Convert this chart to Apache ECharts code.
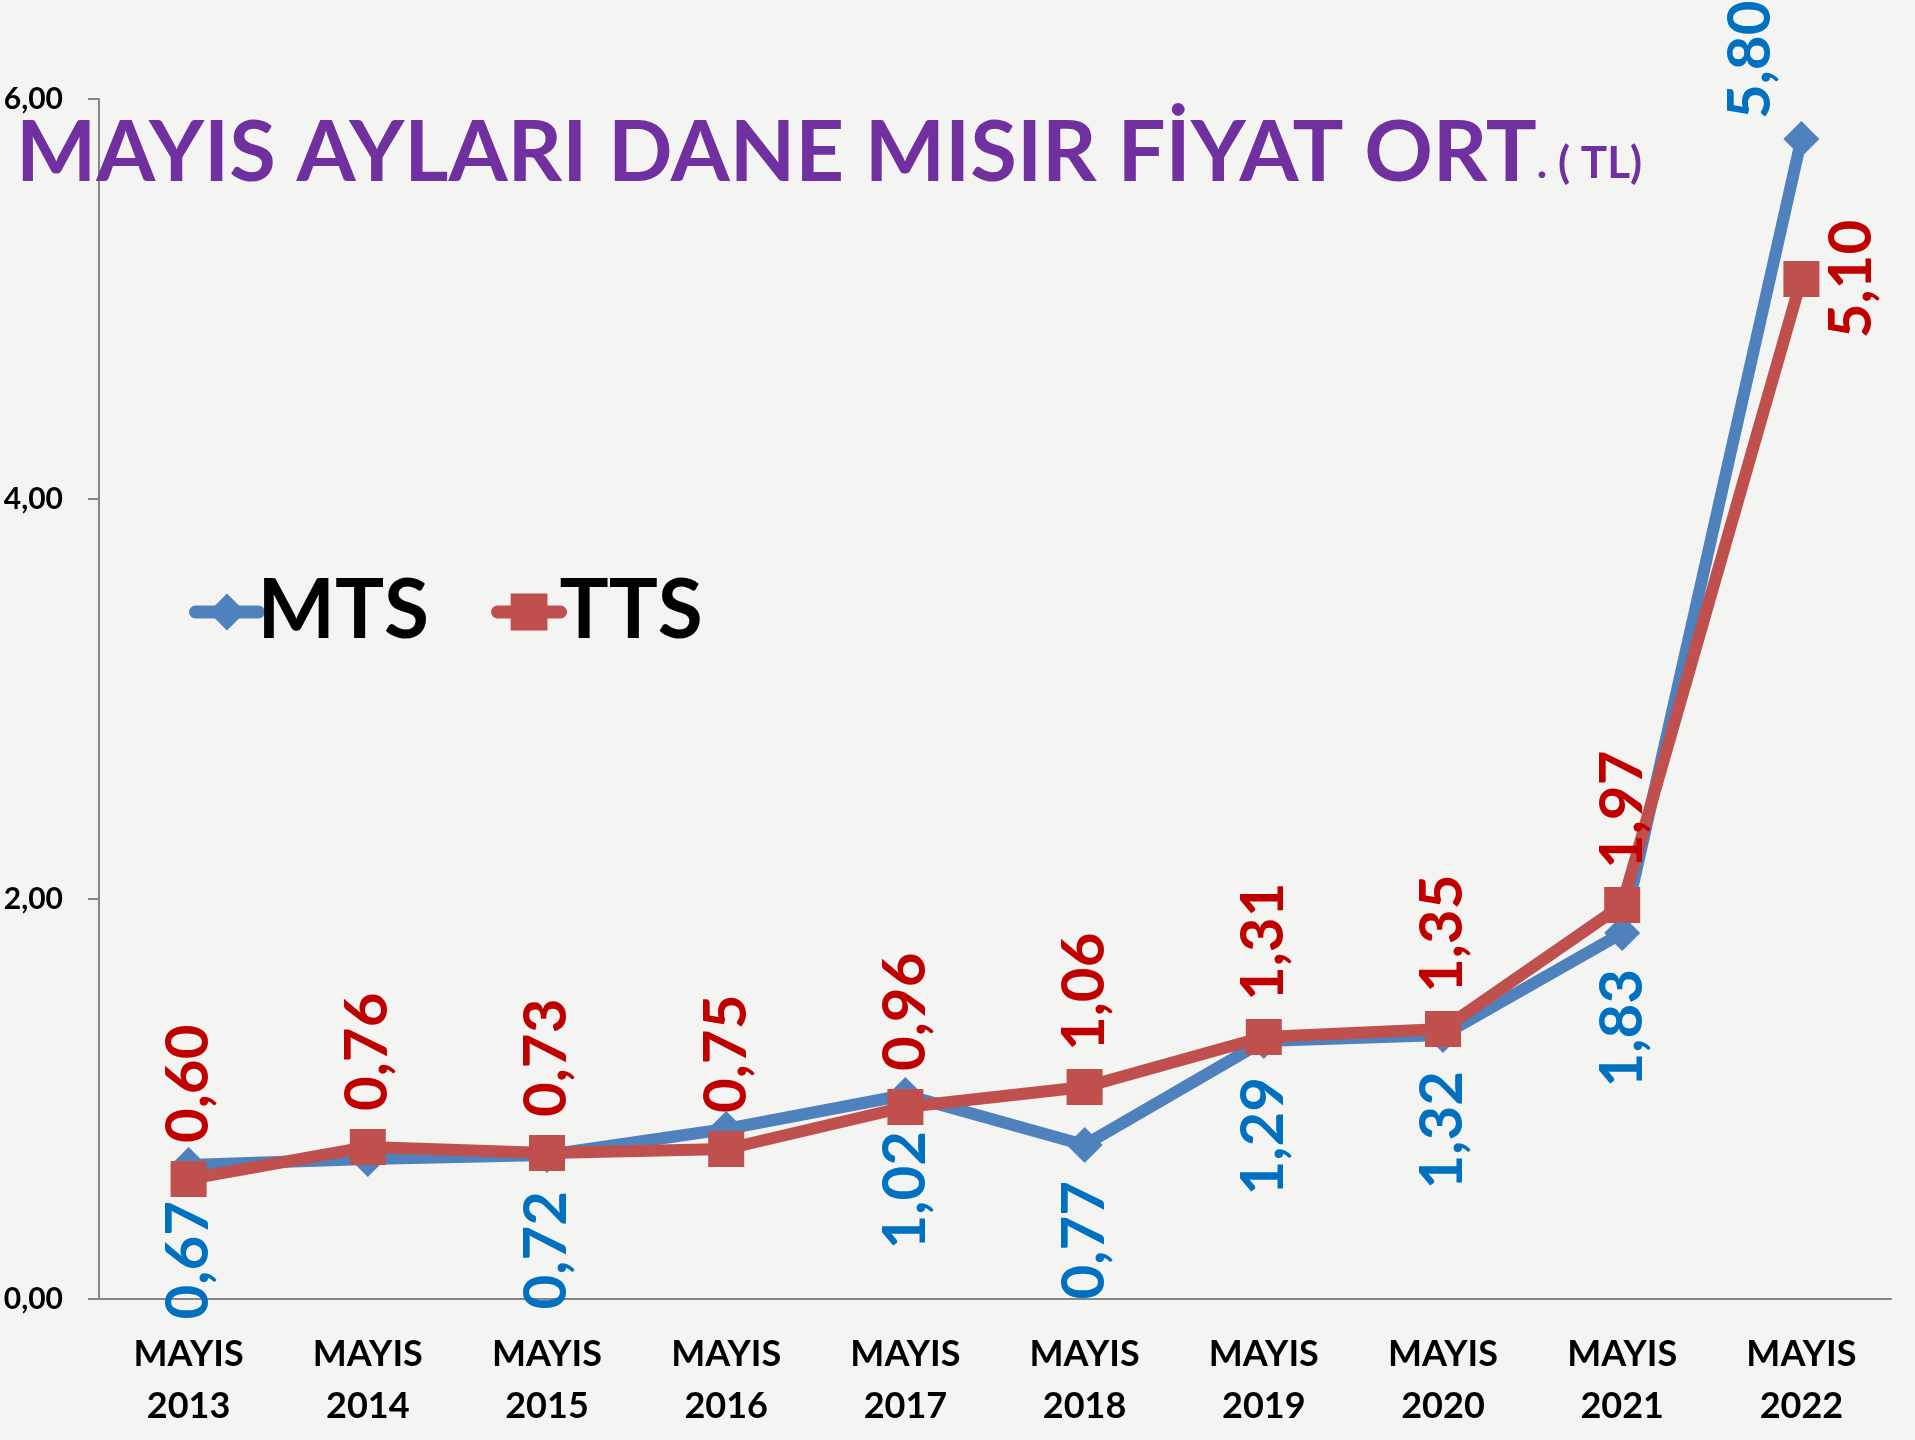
<!DOCTYPE html>
<html>
<head>
    <meta charset="utf-8">
    <title>Mayis aylari dane misir fiyat ort.</title>
    <script src="https://cdn.jsdelivr.net/npm/echarts@6/dist/echarts.min.js"></script>
    <style>
        html, body {
            margin: 0;
            padding: 0;
            background: #f4f4f3;
        }

        #chart {
            width: 1915px;
            height: 1440px;
        }
    </style>
</head>
<body>
<div id="chart"></div>
<script>
    // values
    var years = ['2013', '2014', '2015', '2016', '2017', '2018', '2019', '2020', '2021', '2022']
    var mts = [0.67, 0.70, 0.72, 0.85, 1.02, 0.77, 1.29, 1.32, 1.83, 5.80]
    var tts = [0.60, 0.76, 0.73, 0.75, 0.96, 1.06, 1.31, 1.35, 1.97, 5.10]
    var yTicks = [0, 2, 4, 6]
    var mtsHidden = [1, 3]   // labels that the original does not show

    var font = 'Lato'

    function tl(v) {
        return v.toFixed(2).replace('.', ',')
    }

    var categories = years.map(function (y) {
        return 'MAYIS\n' + y
    })

    var mtsData = mts.map(function (v, i) {
        var item = {value: v}
        if (mtsHidden.indexOf(i) >= 0) {
            item.label = {show: false}
        }
        if (i === mts.length - 1) {
            // no room above the last point, the label sits lower and to the left
            item.label = {position: 'top', align: 'left', verticalAlign: 'middle', offset: [-16, -51]}
        }
        return item
    })

    var ttsData = tts.map(function (v, i) {
        var item = {value: v}
        if (i === tts.length - 1) {
            item.label = {position: 'right', align: 'center', verticalAlign: 'middle', distance: 32}
        }
        return item
    })

    var myChart = echarts.init(document.getElementById('chart'))

    myChart.setOption({
        backgroundColor: '#f4f4f3',
        animation: false,
        title: {
            left: 16,
            top: 104,
            padding: 0,
            text: '{a|MAYIS AYLARI DANE MISIR FİYAT ORT}{b|. ( TL)}',
            textStyle: {
                rich: {
                    a: {
                        fontFamily: font,
                        fontWeight: 'bold',
                        fontSize: 85,
                        lineHeight: 92,
                        color: '#7030a0',
                        verticalAlign: 'bottom'
                    },
                    b: {
                        fontFamily: font,
                        fontWeight: 'bold',
                        fontSize: 44,
                        lineHeight: 48,
                        color: '#7030a0',
                        verticalAlign: 'bottom',
                        padding: [0, 0, 10, 0]
                    }
                }
            }
        },
        legend: {
            left: 184,
            top: 566,
            itemWidth: 63,
            itemHeight: 46,
            itemGap: 62,
            lineStyle: {width: 13, cap: 'round'},
            textStyle: {
                fontFamily: font,
                fontWeight: 'bold',
                fontSize: 82,
                color: '#000',
                padding: [0, 0, 0, -6]
            },
            data: ['MTS', 'TTS']
        },
        grid: {
            left: 99,
            right: 24,
            top: 99,
            bottom: 141
        },
        xAxis: {
            type: 'category',
            data: categories,
            axisLine: {lineStyle: {color: '#868686', width: 2}},
            axisTick: {length: 13, lineStyle: {color: '#868686', width: 2}},
            axisLabel: {
                margin: 29,
                interval: 0,
                fontFamily: font,
                fontWeight: 'bold',
                fontSize: 36,
                lineHeight: 52,
                color: '#000'
            }
        },
        yAxis: {
            type: 'value',
            min: yTicks[0],
            max: yTicks[yTicks.length - 1],
            interval: 2,
            splitLine: {show: false},
            axisLine: {show: true, lineStyle: {color: '#868686', width: 2}},
            axisTick: {show: true, length: 11, lineStyle: {color: '#868686', width: 2}},
            axisLabel: {
                margin: 36,
                fontFamily: font,
                fontWeight: 'bold',
                fontSize: 30,
                color: '#000',
                formatter: function (v) {
                    return tl(v)
                }
            }
        },
        series: [
            {
                name: 'MTS',
                type: 'line',
                data: mtsData,
                symbol: 'diamond',
                symbolSize: 36,
                z: 2,
                itemStyle: {color: '#4f81bd'},
                lineStyle: {color: '#4f81bd', width: 12, cap: 'round', join: 'round'},
                label: {
                    show: true,
                    position: 'bottom',
                    distance: 18,
                    rotate: 90,
                    align: 'right',
                    verticalAlign: 'middle',
                    fontFamily: font,
                    fontWeight: 'bold',
                    fontSize: 60,
                    color: '#0070c0',
                    formatter: function (p) {
                        return tl(p.value)
                    }
                }
            },
            {
                name: 'TTS',
                type: 'line',
                data: ttsData,
                symbol: 'rect',
                symbolSize: 36,
                z: 3,
                itemStyle: {color: '#c0504d'},
                lineStyle: {color: '#c0504d', width: 12, cap: 'round', join: 'round'},
                label: {
                    show: true,
                    position: 'top',
                    distance: 18,
                    rotate: 90,
                    align: 'left',
                    verticalAlign: 'middle',
                    fontFamily: font,
                    fontWeight: 'bold',
                    fontSize: 60,
                    color: '#c00000',
                    formatter: function (p) {
                        return tl(p.value)
                    }
                }
            }
        ]
    })
</script>
</body>
</html>
